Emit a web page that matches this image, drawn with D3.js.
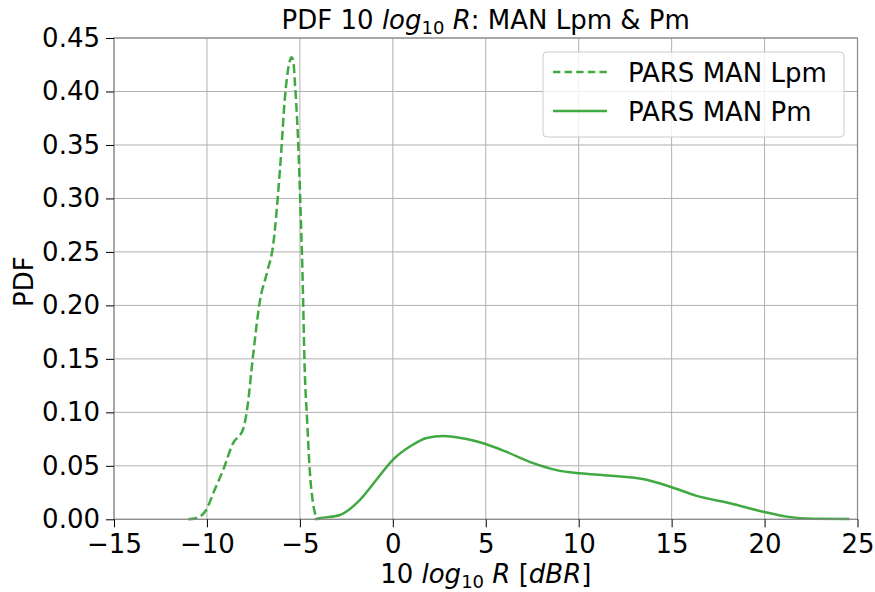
<!DOCTYPE html>
<html><head><meta charset="utf-8">
<script src="https://cdn.jsdelivr.net/npm/d3@7"></script>
<style>body{margin:0;background:#fff}svg{display:block}text{font-family:"DejaVu Sans",sans-serif}</style>
</head><body><svg id="c" width="875" height="592"></svg>
<script>
const xTicks = [-15,-10,-5,0,5,10,15,20,25];
const yTicks = [0,0.05,0.10,0.15,0.20,0.25,0.30,0.35,0.40,0.45];
const seriesNames = ["PARS MAN Lpm","PARS MAN Pm"];
const lpmX = [-11.0,-10.6,-10.05,-9.6,-9.13,-8.6,-8.06,-7.79,-7.6,-7.48,-7.16,-6.75,-6.44,-6.08,-5.76,-5.55,-5.45,-5.35,-5.27,-5.1,-4.97,-4.86,-4.74,-4.61,-4.47,-4.29,-4.1,-3.95];
const lpmY = [0.0,0.001,0.0085,0.027,0.046,0.071,0.084,0.109,0.14,0.159,0.203,0.232,0.256,0.325,0.403,0.428,0.432,0.428,0.409,0.356,0.293,0.231,0.14,0.093,0.046,0.015,0.002,0.0];
const pmX = [-4.2,-3.93,-2.85,-1.78,-0.88,0.0,0.92,1.82,2.71,3.97,4.95,6.12,7.55,8.81,10.05,11.5,13.65,15.0,16.35,18.14,19.93,21.19,22.62,24.56];
const pmY = [0.0,0.001,0.004,0.018,0.037,0.0556,0.068,0.076,0.078,0.075,0.0706,0.063,0.0525,0.046,0.043,0.041,0.037,0.030,0.0219,0.015,0.0071,0.0025,0.0006,0.0003];

const svg = d3.select("#c");
const L=114, R=857.5, T=38, B=519.3;
const FS = 26;
const x = d3.scaleLinear().domain([-15,25]).range([L,R]);
const y = d3.scaleLinear().domain([0,0.45]).range([B,T]);
const green = "#2ca02c";

// grid
svg.append("g").selectAll("line").data(xTicks).join("line")
  .attr("x1",d=>x(d)).attr("x2",d=>x(d)).attr("y1",T).attr("y2",B)
  .attr("stroke","#b0b0b0").attr("stroke-width",1);
svg.append("g").selectAll("line").data(yTicks).join("line")
  .attr("y1",d=>y(d)).attr("y2",d=>y(d)).attr("x1",L).attr("x2",R)
  .attr("stroke","#b0b0b0").attr("stroke-width",1);

// lines
const line = d3.line().x(d=>x(d[0])).y(d=>y(d[1])).curve(d3.curveMonotoneX);
svg.append("path").datum(lpmX.map((v,i)=>[v,lpmY[i]])).attr("d",line)
  .attr("fill","none").attr("stroke",green).attr("stroke-width",2.5)
  .attr("stroke-dasharray","9,4").attr("opacity",0.9);
svg.append("path").datum(pmX.map((v,i)=>[v,pmY[i]])).attr("d",line)
  .attr("fill","none").attr("stroke",green).attr("stroke-width",2.5).attr("opacity",0.9);

// frame
svg.append("rect").attr("x",L).attr("y",T).attr("width",R-L).attr("height",B-T)
  .attr("fill","none").attr("stroke","#888").attr("stroke-width",1.2);

// axes
const xAxis = d3.axisBottom(x).tickValues(xTicks).tickSizeOuter(0).tickSize(8).tickPadding(7)
  .tickFormat(d=>d<0?"\u2212"+Math.abs(d):d);
const gx = svg.append("g").attr("transform",`translate(0,${B})`).call(xAxis);
gx.select(".domain").remove();
gx.selectAll("text").attr("font-size",FS).attr("fill","#000").attr("font-family","DejaVu Sans");
gx.selectAll("line").attr("stroke","#000").attr("stroke-width",1);
const yAxis = d3.axisLeft(y).tickValues(yTicks).tickSizeOuter(0).tickSize(8).tickPadding(6)
  .tickFormat(d3.format(".2f"));
const gy = svg.append("g").attr("transform",`translate(${L},0)`).call(yAxis);
gy.select(".domain").remove();
gy.selectAll("text").attr("font-size",FS).attr("fill","#000").attr("font-family","DejaVu Sans");
gy.selectAll("line").attr("stroke","#000").attr("stroke-width",1);

// title
const title = svg.append("text").attr("x",(L+R)/2).attr("y",29).attr("text-anchor","middle").attr("font-size",26);
title.append("tspan").text("PDF 10 ");
title.append("tspan").attr("font-style","italic").text("log");
title.append("tspan").attr("font-size",18).attr("dy",5).text("10");
title.append("tspan").attr("dy",-5).text(" ");
title.append("tspan").attr("font-style","italic").text("R");
title.append("tspan").text(": MAN Lpm & Pm");

// x label
const xl = svg.append("text").attr("x",(L+R)/2).attr("y",583).attr("text-anchor","middle").attr("font-size",FS);
xl.append("tspan").text("10 ");
xl.append("tspan").attr("font-style","italic").text("log");
xl.append("tspan").attr("font-size",18).attr("dy",5).text("10");
xl.append("tspan").attr("dy",-5).text(" ");
xl.append("tspan").attr("font-style","italic").text("R");
xl.append("tspan").text(" [");
xl.append("tspan").attr("font-style","italic").text("dBR");
xl.append("tspan").text("]");

// y label
svg.append("text").attr("transform",`translate(33,${(T+B)/2+3}) rotate(-90)`).attr("text-anchor","middle")
  .attr("font-size",FS).text("PDF");

// legend
const lg = svg.append("g");
lg.append("rect").attr("x",543).attr("y",52).attr("width",301).attr("height",85).attr("rx",4)
  .attr("fill","#fff").attr("fill-opacity",0.8).attr("stroke","#ccc");
const rows=[{n:seriesNames[0],d:"7.4,4.2",yy:72},{n:seriesNames[1],d:null,yy:111}];
rows.forEach(r=>{
  const ln = lg.append("line").attr("x1",553).attr("x2",607).attr("y1",r.yy).attr("y2",r.yy)
    .attr("stroke",green).attr("stroke-width",2.5).attr("opacity",0.9);
  if(r.d) ln.attr("stroke-dasharray",r.d);
  lg.append("text").attr("x",628).attr("y",r.yy+10).attr("font-size",FS).attr("textLength",null).text(r.n);
});
</script></body></html>
